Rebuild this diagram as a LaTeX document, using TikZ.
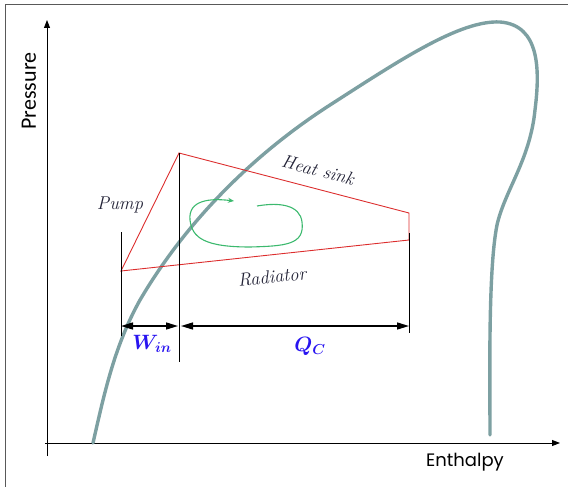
\documentclass[tikz,border=0pt]{standalone}
\usepackage{fontspec}
\usepackage{amsmath}
\usepackage{bm}
\newfontfamily\presfont{Carlito}
\newfontfamily\enthfont{Poppins}
\usetikzlibrary{arrows.meta}
\definecolor{dome}{RGB}{125,160,162}
\definecolor{cyc}{RGB}{220,45,45}
\definecolor{loopg}{RGB}{60,185,110}
\definecolor{lbl}{RGB}{35,35,55}
\definecolor{qblue}{RGB}{40,20,240}
\tikzset{
  axis/.style={line width=0.9pt,-{Triangle[length=8pt,width=6pt]}},
  domeline/.style={dome,line width=3.4pt,line cap=round},
  cycline/.style={cyc,line width=0.9pt},
  guide/.style={black,line width=0.9pt},
  dim/.style={line width=1.4pt,{Triangle[length=12pt,width=7pt]}-{Triangle[length=12pt,width=7pt]}},
  preslabel/.style={font=\presfont\fontsize{22}{26}\selectfont},
  enthlabel/.style={font=\enthfont\fontsize{18}{22}\selectfont},
  itlabel/.style={font=\fontsize{18.5}{21}\selectfont\itshape,lbl,inner sep=0pt},
  qlabel/.style={font=\fontsize{20}{23}\selectfont,qblue}
}
\begin{document}
\begin{tikzpicture}[x=1pt,y=-1pt]
\useasboundingbox (0,0) rectangle (568,487);
% frame
\draw[gray!70!black,line width=1pt] (5,487) -- (5,5) -- (568,5);
% axes
\coordinate (ytop) at (47,20);
\coordinate (ybot) at (47,456);
\coordinate (xl) at (45,443);
\coordinate (xr) at (560,443);
\draw[axis] (ybot) -- (ytop);
\draw[axis] (xl) -- (xr);
\node[preslabel,rotate=90] (pres) at (29,91) {Pressure};
\node[enthlabel] (enth) at (465,462) {Enthalpy};
% dome
\draw[domeline] (93,443) .. controls (105,390) and (115,345) .. (140,300)
  .. controls (190,215) and (260,150) .. (330,105)
  .. controls (400,60) and (460,20) .. (500,22)
  .. controls (540,25) and (540,70) .. (535,110)
  .. controls (530,160) and (505,190) .. (497,225)
  .. controls (488,270) and (490,380) .. (490,435);
% cycle points
\coordinate (A) at (121,271);
\coordinate (B) at (179,153);
\coordinate (C) at (409,213);
\coordinate (D) at (409,240);
\draw[cycline] (A) -- (B) -- (C) -- (D) -- cycle;
% vertical guides
\coordinate (g1t) at (121,232);
\coordinate (g1b) at (121,336);
\coordinate (g2b) at (179,362);
\coordinate (g3t) at (409,233);
\coordinate (g3b) at (409,333);
\draw[guide] (g1t) -- (g1b);
\draw[guide] (B) -- (g2b);
\draw[guide] (g3t) -- (g3b);
% dimension arrows
\coordinate (w1) at (121,326);
\coordinate (w2) at (178,326);
\coordinate (q1) at (181,326);
\coordinate (q2) at (409,326);
\draw[dim] (w1) -- (w2);
\draw[dim] (q1) -- (q2);
\node[qlabel] (win) at (152,344) {$\bm{W_{in}}$};
\node[qlabel] (qc) at (310,346) {$\bm{Q_{C}}$};
% labels
\node[itlabel] (pump) at (120,205) {Pump};
\node[itlabel,rotate=-14.6] (hs) at (318,170) {Heat sink};
\node[itlabel,rotate=6.3] (rad) at (272,277) {Radiator};
% green loop
\draw[loopg,line width=1.1pt,-{Stealth[length=6pt,width=5pt]}]
  (257,206) .. controls (280,202) and (300,205) .. (302,222)
  .. controls (305,245) and (285,246) .. (250,247)
  .. controls (205,247) and (192,238) .. (190,220)
  .. controls (188,200) and (210,198) .. (234,201);
\end{tikzpicture}
\end{document}
